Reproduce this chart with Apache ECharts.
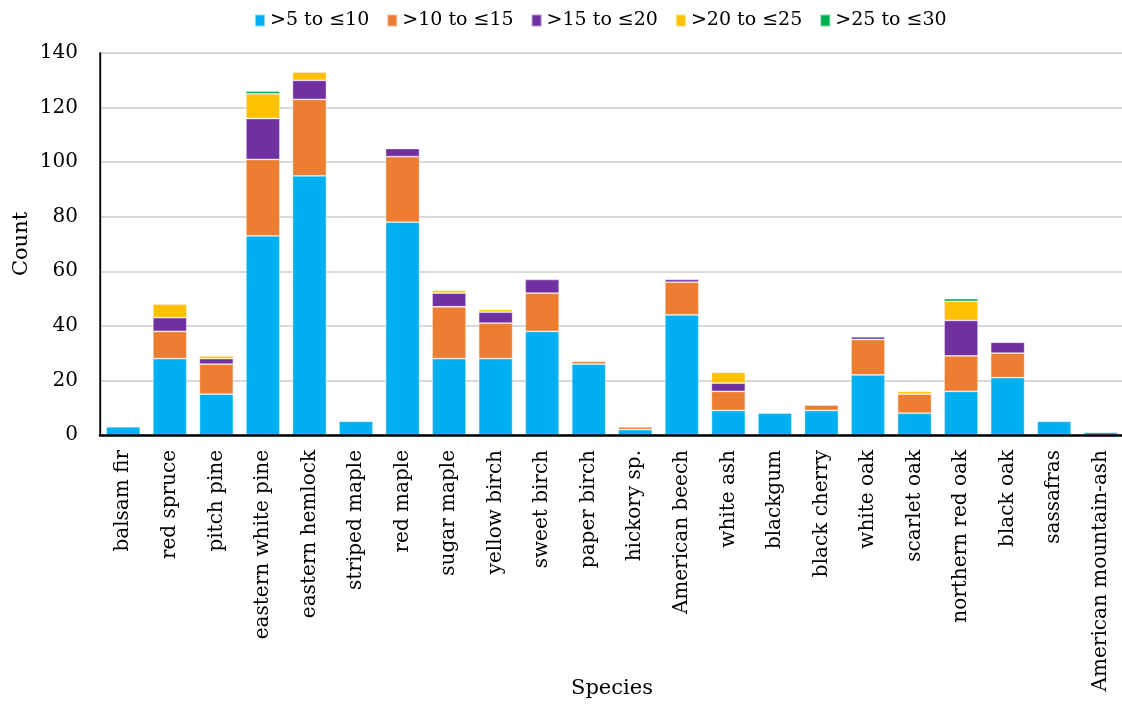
<!DOCTYPE html>
<html>
<head>
<meta charset="utf-8">
<script src="https://cdn.jsdelivr.net/npm/echarts@6/dist/echarts.min.js"></script>
<style>
  html, body { margin: 0; padding: 0; background: #fff; }
  #chart { width: 1122px; height: 708px; }
</style>
</head>
<body>
<div id="chart"></div>
<script>
// Tree counts by species, stacked by diameter class
const species = ['balsam fir', 'red spruce', 'pitch pine', 'eastern white pine', 'eastern hemlock',
  'striped maple', 'red maple', 'sugar maple', 'yellow birch', 'sweet birch', 'paper birch',
  'hickory sp.', 'American beech', 'white ash', 'blackgum', 'black cherry', 'white oak',
  'scarlet oak', 'northern red oak', 'black oak', 'sassafras', 'American mountain-ash'];

const classNames = ['>5 to ≤10', '>10 to ≤15', '>15 to ≤20', '>20 to ≤25', '>25 to ≤30'];

const d5to10  = [3, 28, 15, 73, 95, 5, 78, 28, 28, 38, 26, 2, 44, 9, 8, 9, 22, 8, 16, 21, 5, 1];
const d10to15 = [0, 10, 11, 28, 28, 0, 24, 19, 13, 14, 1, 1, 12, 7, 0, 2, 13, 7, 13, 9, 0, 0];
const d15to20 = [0, 5, 2, 15, 7, 0, 3, 5, 4, 5, 0, 0, 1, 3, 0, 0, 1, 0, 13, 4, 0, 0];
const d20to25 = [0, 5, 1, 9, 3, 0, 0, 1, 1, 0, 0, 0, 0, 4, 0, 0, 0, 1, 7, 0, 0, 0];
const d25to30 = [0, 0, 0, 1, 0, 0, 0, 0, 0, 0, 0, 0, 0, 0, 0, 0, 0, 0, 1, 0, 0, 0];

const yTicks = { min: 0, max: 140, interval: 20 };

const classValues = [d5to10, d10to15, d15to20, d20to25, d25to30];
const colors = ['#00B0F0', '#ED7D31', '#7030A0', '#FFC000', '#00B050'];
const font = 'DejaVu Serif';

const chart = echarts.init(document.getElementById('chart'), null, { renderer: 'canvas' });

chart.setOption({
  animation: false,
  color: colors,
  legend: {
    top: 6,
    left: 249,
    itemWidth: 10,
    itemHeight: 12,
    itemGap: 17,
    icon: 'rect',
    textStyle: { fontFamily: font, fontSize: 19, color: '#000' },
    data: classNames
  },
  grid: {
    left: 100, right: -2, top: 53, bottom: 273,
    outerBoundsMode: 'none',
    show: true, borderColor: '#000', borderWidth: 1.3,
    containLabel: false
  },
  xAxis: {
    type: 'category',
    data: species,
    z: 5,
    name: 'Species',
    nameLocation: 'middle',
    nameGap: 243,
    nameMoveOverlap: false,
    nameTextStyle: { fontFamily: font, fontSize: 21, color: '#000' },
    axisLine: { lineStyle: { color: '#000', width: 2.5 } },
    axisTick: { show: false },
    axisLabel: { rotate: 90, margin: 15, fontFamily: font, fontSize: 20, color: '#000', interval: 0 }
  },
  yAxis: {
    type: 'value',
    min: yTicks.min, max: yTicks.max, interval: yTicks.interval,
    name: 'Count',
    nameLocation: 'middle',
    nameGap: 68,
    nameMoveOverlap: false,
    nameTextStyle: { fontFamily: font, fontSize: 21, color: '#000' },
    axisLine: { show: true, lineStyle: { color: '#000', width: 1.3 } },
    axisTick: { show: false },
    axisLabel: { margin: 22, fontFamily: font, fontSize: 20, color: '#000' },
    splitLine: { lineStyle: { color: '#d9d9d9', width: 2 } }
  },
  series: classValues.map((vals, i) => ({
    name: classNames[i],
    type: 'bar',
    stack: 'count',
    barCategoryGap: '27%',
    itemStyle: { borderColor: 'rgba(255,255,255,0.5)', borderWidth: 0.8 },
    data: vals.map(v => (v === 0 ? null : v))
  }))
});
</script>
</body>
</html>
